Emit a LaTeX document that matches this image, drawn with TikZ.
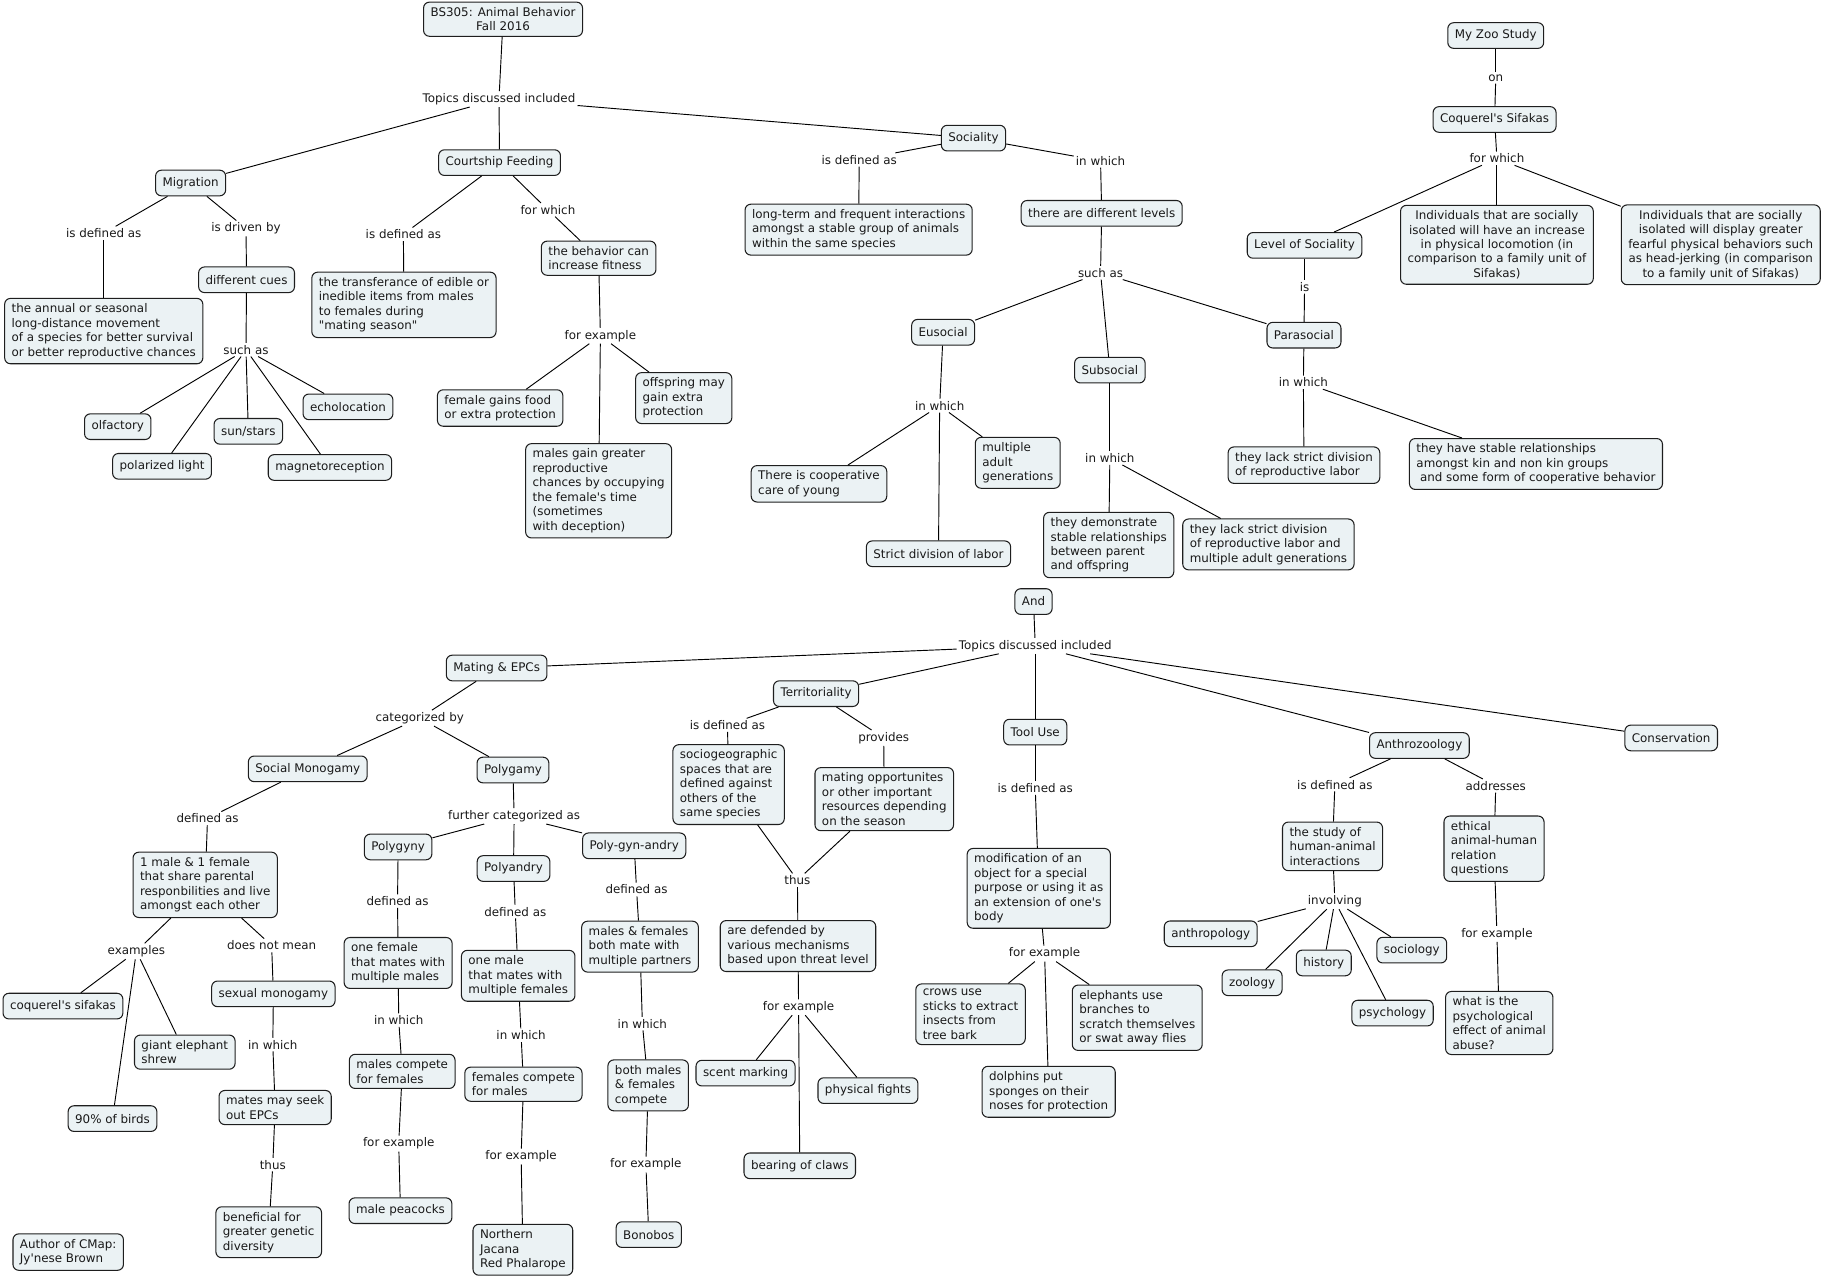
\documentclass[tikz,border=0pt]{standalone}
\usepackage{fontspec}
\newfontfamily\cmapfont{DejaVu Sans}
\definecolor{conceptfill}{RGB}{235,242,244}
\definecolor{conceptline}{RGB}{30,30,30}
\begin{document}
\begin{tikzpicture}[>=latex,line join=bevel,line width=0.8bp,
    every node/.style={font=\cmapfont\fontsize{10.2bp}{12.4bp}\selectfont,text=black!90},
    concept/.style={draw=conceptline,fill=conceptfill,line width=0.9bp,rounded corners=5bp,
        align=left,inner xsep=6bp,inner ysep=4.5bp,minimum height=22bp},
    link/.style={inner sep=1.5bp}]
    %%
    \useasboundingbox (0bp,0bp) rectangle (1568bp,1100bp);
    % upper map
    \node (bs) at (431.5bp,1083.5bp) [concept,align=center] {BS305: Animal Behavior\\Fall 2016};
    \node (t1) at (428.0bp,1015.0bp) [link] {Topics discussed included};
    \node (migr) at (163.5bp,943.0bp) [concept] {Migration};
    \node (court) at (428.5bp,960.5bp) [concept] {Courtship Feeding};
    \node (soc) at (835.0bp,981.5bp) [concept] {Sociality};
    \node (mdef) at (89.0bp,900.0bp) [link] {is defined as};
    \node (mdrv) at (211.0bp,904.0bp) [link] {is driven by};
    \node (annual) at (89.0bp,816.0bp) [concept] {the annual or seasonal\\long-distance movement\\of a species for better survival\\or better reproductive chances};
    \node (cues) at (211.5bp,860.0bp) [concept] {different cues};
    \node (suchas) at (211.0bp,800.0bp) [link] {such as};
    \node (olf) at (101.0bp,734.0bp) [concept] {olfactory};
    \node (sun) at (213.0bp,730.0bp) [concept] {sun/stars};
    \node (echo) at (298.5bp,751.0bp) [concept] {echolocation};
    \node (pol) at (139.0bp,700.0bp) [concept] {polarized light};
    \node (mag) at (283.0bp,699.0bp) [concept] {magnetoreception};
    \node (cdef) at (346.0bp,899.0bp) [link] {is defined as};
    \node (cfw) at (470.0bp,920.0bp) [link] {for which};
    \node (transf) at (346.5bp,838.5bp) [concept] {the transferance of edible or\\inedible items from males\\to females during\\"mating season"};
    \node (fitness) at (513.5bp,878.5bp) [concept] {the behavior can\\increase fitness};
    \node (cfe) at (515.0bp,812.0bp) [link] {for example};
    \node (female) at (429.0bp,750.0bp) [concept] {female gains food\\or extra protection};
    \node (offspring) at (586.5bp,758.5bp) [concept] {offspring may\\gain extra\\protection};
    \node (males) at (513.5bp,679.0bp) [concept] {males gain greater\\reproductive\\chances by occupying\\the female's time\\(sometimes\\with deception)};
    \node (sdef) at (737.0bp,963.0bp) [link] {is defined as};
    \node (sin) at (944.0bp,962.0bp) [link] {in which};
    \node (longterm) at (736.5bp,903.0bp) [concept] {long-term and frequent interactions\\amongst a stable group of animals\\within the same species};
    \node (levels) at (945.0bp,917.0bp) [concept] {there are different levels};
    \node (suchas2) at (944.0bp,866.0bp) [link] {such as};
    \node (eu) at (809.0bp,815.0bp) [concept] {Eusocial};
    \node (sub) at (952.0bp,782.5bp) [concept] {Subsocial};
    \node (para) at (1118.5bp,812.5bp) [concept] {Parasocial};
    \node (euin) at (806.0bp,752.0bp) [link] {in which};
    \node (coop) at (702.5bp,685.0bp) [concept] {There is cooperative\\care of young};
    \node (multi) at (873.0bp,703.0bp) [concept] {multiple\\adult\\generations};
    \node (strict) at (805.0bp,625.0bp) [concept] {Strict division of labor};
    \node (subin) at (952.0bp,707.0bp) [link] {in which};
    \node (demo) at (951.0bp,632.5bp) [concept] {they demonstrate\\stable relationships\\between parent\\and offspring};
    \node (lack2) at (1088.0bp,633.0bp) [concept] {they lack strict division\\of reproductive labor and\\multiple adult generations};
    \node (parain) at (1118.0bp,772.0bp) [link] {in which};
    \node (lack1) at (1118.5bp,701.0bp) [concept] {they lack strict division\\of reproductive labor};
    \node (stable) at (1317.5bp,702.0bp) [concept] {they have stable relationships\\amongst kin and non kin groups\\\hspace*{0.3em}and some form of cooperative behavior};
    \node (zoo) at (1283.0bp,1069.5bp) [concept] {My Zoo Study};
    \node (on) at (1283.0bp,1033.0bp) [link] {on};
    \node (sifakas) at (1282.0bp,997.5bp) [concept] {Coquerel's Sifakas};
    \node (sfw) at (1284.0bp,964.0bp) [link] {for which};
    \node (level) at (1119.0bp,889.5bp) [concept] {Level of Sociality};
    \node (ind1) at (1284.0bp,890.0bp) [concept,align=center] {Individuals that are socially\\isolated will have an increase\\in physical locomotion (in\\comparison to a family unit of\\Sifakas)};
    \node (ind2) at (1476.0bp,890.0bp) [concept,align=center] {Individuals that are socially\\isolated will display greater\\fearful physical behaviors such\\as head-jerking (in comparison\\to a family unit of Sifakas)};
    \node (is) at (1119.0bp,854.0bp) [link] {is};
    % lower map
    \node (and) at (886.5bp,584.0bp) [concept] {And};
    \node (t2) at (888.0bp,546.0bp) [link] {Topics discussed included};
    \node (mating) at (426.0bp,527.0bp) [concept] {Mating \& EPCs};
    \node (terr) at (700.0bp,505.0bp) [concept] {Territoriality};
    \node (tool) at (888.0bp,472.0bp) [concept] {Tool Use};
    \node (anthro) at (1217.5bp,460.5bp) [concept] {Anthrozoology};
    \node (cons) at (1433.5bp,467.0bp) [concept] {Conservation};
    \node (cat) at (360.0bp,484.0bp) [link] {categorized by};
    \node (socmono) at (264.0bp,440.5bp) [concept] {Social Monogamy};
    \node (polygamy) at (440.0bp,439.5bp) [concept] {Polygamy};
    \node (smdef) at (178.0bp,398.0bp) [link] {defined as};
    \node (onepair) at (176.0bp,341.0bp) [concept] {1 male \& 1 female\\that share parental\\responbilities and live\\amongst each other};
    \node (ex) at (117.0bp,284.0bp) [link] {examples};
    \node (dnm) at (233.0bp,289.0bp) [link] {does not mean};
    \node (coq) at (54.0bp,237.0bp) [concept] {coquerel's sifakas};
    \node (shrew) at (158.5bp,197.5bp) [concept] {giant elephant\\shrew};
    \node (birds) at (96.5bp,140.5bp) [concept] {90\% of birds};
    \node (sexmono) at (234.5bp,247.5bp) [concept] {sexual monogamy};
    \node (smin) at (234.0bp,204.0bp) [link] {in which};
    \node (epcs) at (236.0bp,150.0bp) [concept] {mates may seek\\out EPCs};
    \node (smthus) at (234.0bp,101.0bp) [link] {thus};
    \node (benef) at (230.5bp,43.0bp) [concept] {beneficial for\\greater genetic\\diversity};
    \node (author) at (58.5bp,26.0bp) [concept] {Author of CMap:\\Jy'nese Brown};
    \node (further) at (441.0bp,400.0bp) [link] {further categorized as};
    \node (polygyny) at (341.5bp,373.5bp) [concept] {Polygyny};
    \node (polyandry) at (440.5bp,355.0bp) [concept] {Polyandry};
    \node (pga) at (544.0bp,374.5bp) [concept] {Poly-gyn-andry};
    \node (gydef) at (341.0bp,327.0bp) [link] {defined as};
    \node (onefem) at (341.5bp,274.0bp) [concept] {one female\\that mates with\\multiple males};
    \node (gyin) at (342.0bp,225.0bp) [link] {in which};
    \node (malcomp) at (345.0bp,181.0bp) [concept] {males compete\\for females};
    \node (gyex) at (342.0bp,119.0bp) [link] {for example};
    \node (peacock) at (343.5bp,61.5bp) [concept] {male peacocks};
    \node (andef) at (442.0bp,318.0bp) [link] {defined as};
    \node (onemale) at (444.5bp,263.0bp) [concept] {one male\\that mates with\\multiple females};
    \node (anin) at (447.0bp,212.0bp) [link] {in which};
    \node (femcomp) at (449.0bp,170.0bp) [concept] {females compete\\for males};
    \node (anex) at (447.0bp,108.0bp) [link] {for example};
    \node (jacana) at (448.5bp,28.0bp) [concept] {Northern\\Jacana\\Red Phalarope};
    \node (pgadef) at (546.0bp,337.0bp) [link] {defined as};
    \node (bothmate) at (549.0bp,288.0bp) [concept] {males \& females\\both mate with\\multiple partners};
    \node (pgain) at (551.0bp,222.0bp) [link] {in which};
    \node (bothcomp) at (556.0bp,169.0bp) [concept] {both males\\\& females\\compete};
    \node (pgaex) at (554.0bp,101.0bp) [link] {for example};
    \node (bonobos) at (556.5bp,41.0bp) [concept] {Bonobos};
    \node (tdef) at (624.0bp,478.0bp) [link] {is defined as};
    \node (prov) at (758.0bp,467.0bp) [link] {provides};
    \node (socio) at (625.0bp,427.0bp) [concept] {sociogeographic\\spaces that are\\defined against\\others of the\\same species};
    \node (matopp) at (758.5bp,414.5bp) [concept] {mating opportunites\\or other important\\resources depending\\on the season};
    \node (tthus) at (684.0bp,345.0bp) [link] {thus};
    \node (defend) at (684.5bp,288.5bp) [concept] {are defended by\\various mechanisms\\based upon threat level};
    \node (tex) at (685.0bp,236.0bp) [link] {for example};
    \node (scent) at (639.5bp,179.5bp) [concept] {scent marking};
    \node (fights) at (744.5bp,164.5bp) [concept] {physical fights};
    \node (claws) at (686.0bp,100.0bp) [concept] {bearing of claws};
    \node (tudef) at (888.0bp,424.0bp) [link] {is defined as};
    \node (modif) at (891.0bp,338.0bp) [concept] {modification of an\\object for a special\\purpose or using it as\\an extension of one's\\body};
    \node (tuex) at (896.0bp,282.0bp) [link] {for example};
    \node (crows) at (832.5bp,230.0bp) [concept] {crows use\\sticks to extract\\insects from\\tree bark};
    \node (eleph) at (975.5bp,227.0bp) [concept] {elephants use\\branches to\\scratch themselves\\or swat away flies};
    \node (dolph) at (899.5bp,163.5bp) [concept] {dolphins put\\sponges on their\\noses for protection};
    \node (adef) at (1145.0bp,427.0bp) [link] {is defined as};
    \node (addr) at (1283.0bp,426.0bp) [link] {addresses};
    \node (study) at (1143.0bp,374.0bp) [concept] {the study of\\human-animal\\interactions};
    \node (inv) at (1145.0bp,327.0bp) [link] {involving};
    \node (anthrop) at (1038.5bp,299.0bp) [concept] {anthropology};
    \node (zool) at (1074.0bp,257.0bp) [concept] {zoology};
    \node (hist) at (1135.5bp,274.0bp) [concept] {history};
    \node (sociol) at (1211.0bp,285.0bp) [concept] {sociology};
    \node (psych) at (1194.5bp,231.0bp) [concept] {psychology};
    \node (ethical) at (1281.5bp,372.0bp) [concept] {ethical\\animal-human\\relation\\questions};
    \node (aex) at (1284.0bp,299.0bp) [link] {for example};
    \node (abuse) at (1286.0bp,222.5bp) [concept] {what is the\\psychological\\effect of animal\\abuse?};
    % upper links
    \draw [] (bs) -- (t1);
    \draw [] (t1) -- (migr);
    \draw [] (t1) -- (court);
    \draw [] (t1) -- (soc);
    \draw [] (migr) -- (mdef);
    \draw [] (mdef) -- (annual);
    \draw [] (migr) -- (mdrv);
    \draw [] (mdrv) -- (cues);
    \draw [] (cues) -- (suchas);
    \draw [] (suchas) -- (olf);
    \draw [] (suchas) -- (sun);
    \draw [] (suchas) -- (echo);
    \draw [] (suchas) -- (pol);
    \draw [] (suchas) -- (mag);
    \draw [] (court) -- (cdef);
    \draw [] (cdef) -- (transf);
    \draw [] (court) -- (cfw);
    \draw [] (cfw) -- (fitness);
    \draw [] (fitness) -- (cfe);
    \draw [] (cfe) -- (female);
    \draw [] (cfe) -- (offspring);
    \draw [] (cfe) -- (males);
    \draw [] (soc) -- (sdef);
    \draw [] (sdef) -- (longterm);
    \draw [] (soc) -- (sin);
    \draw [] (sin) -- (levels);
    \draw [] (levels) -- (suchas2);
    \draw [] (suchas2) -- (eu);
    \draw [] (suchas2) -- (sub);
    \draw [] (suchas2) -- (para);
    \draw [] (eu) -- (euin);
    \draw [] (euin) -- (coop);
    \draw [] (euin) -- (multi);
    \draw [] (euin) -- (strict);
    \draw [] (sub) -- (subin);
    \draw [] (subin) -- (demo);
    \draw [] (subin) -- (lack2);
    \draw [] (para) -- (parain);
    \draw [] (parain) -- (lack1);
    \draw [] (parain) -- (stable);
    \draw [] (zoo) -- (on);
    \draw [] (on) -- (sifakas);
    \draw [] (sifakas) -- (sfw);
    \draw [] (sfw) -- (level);
    \draw [] (sfw) -- (ind1);
    \draw [] (sfw) -- (ind2);
    \draw [] (level) -- (is);
    \draw [] (is) -- (para);
    % lower links
    \draw [] (and) -- (t2);
    \draw [] (t2) -- (mating);
    \draw [] (t2) -- (terr);
    \draw [] (t2) -- (tool);
    \draw [] (t2) -- (anthro);
    \draw [] (t2) -- (cons);
    \draw [] (mating) -- (cat);
    \draw [] (cat) -- (socmono);
    \draw [] (cat) -- (polygamy);
    \draw [] (socmono) -- (smdef);
    \draw [] (smdef) -- (onepair);
    \draw [] (onepair) -- (ex);
    \draw [] (ex) -- (coq);
    \draw [] (ex) -- (shrew);
    \draw [] (ex) -- (birds);
    \draw [] (onepair) -- (dnm);
    \draw [] (dnm) -- (sexmono);
    \draw [] (sexmono) -- (smin);
    \draw [] (smin) -- (epcs);
    \draw [] (epcs) -- (smthus);
    \draw [] (smthus) -- (benef);
    \draw [] (polygamy) -- (further);
    \draw [] (further) -- (polygyny);
    \draw [] (further) -- (polyandry);
    \draw [] (further) -- (pga);
    \draw [] (polygyny) -- (gydef);
    \draw [] (gydef) -- (onefem);
    \draw [] (onefem) -- (gyin);
    \draw [] (gyin) -- (malcomp);
    \draw [] (malcomp) -- (gyex);
    \draw [] (gyex) -- (peacock);
    \draw [] (polyandry) -- (andef);
    \draw [] (andef) -- (onemale);
    \draw [] (onemale) -- (anin);
    \draw [] (anin) -- (femcomp);
    \draw [] (femcomp) -- (anex);
    \draw [] (anex) -- (jacana);
    \draw [] (pga) -- (pgadef);
    \draw [] (pgadef) -- (bothmate);
    \draw [] (bothmate) -- (pgain);
    \draw [] (pgain) -- (bothcomp);
    \draw [] (bothcomp) -- (pgaex);
    \draw [] (pgaex) -- (bonobos);
    \draw [] (terr) -- (tdef);
    \draw [] (tdef) -- (socio);
    \draw [] (terr) -- (prov);
    \draw [] (prov) -- (matopp);
    \draw [] (socio) -- (tthus);
    \draw [] (matopp) -- (tthus);
    \draw [] (tthus) -- (defend);
    \draw [] (defend) -- (tex);
    \draw [] (tex) -- (scent);
    \draw [] (tex) -- (fights);
    \draw [] (tex) -- (claws);
    \draw [] (tool) -- (tudef);
    \draw [] (tudef) -- (modif);
    \draw [] (modif) -- (tuex);
    \draw [] (tuex) -- (crows);
    \draw [] (tuex) -- (eleph);
    \draw [] (tuex) -- (dolph);
    \draw [] (anthro) -- (adef);
    \draw [] (adef) -- (study);
    \draw [] (anthro) -- (addr);
    \draw [] (addr) -- (ethical);
    \draw [] (study) -- (inv);
    \draw [] (inv) -- (anthrop);
    \draw [] (inv) -- (zool);
    \draw [] (inv) -- (hist);
    \draw [] (inv) -- (sociol);
    \draw [] (inv) -- (psych);
    \draw [] (ethical) -- (aex);
    \draw [] (aex) -- (abuse);
    %
\end{tikzpicture}
\end{document}
